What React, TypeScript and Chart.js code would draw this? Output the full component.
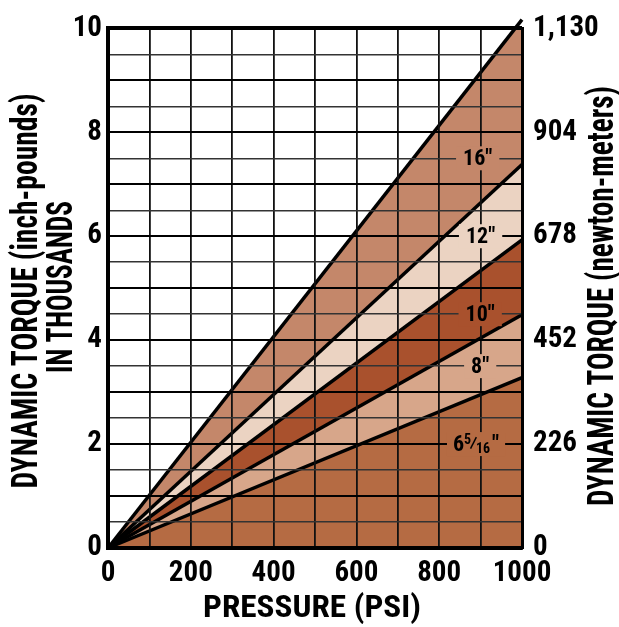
import React, { useEffect, useRef } from "react";
import { Chart, registerables } from "chart.js";

Chart.register(...registerables);

// ---- data ----
const pressurePsi = [0, 1000];
const torque16 = [0, 10.17];
const torque12 = [0, 7.38];
const torque10 = [0, 5.93];
const torque8 = [0, 4.49];
const torque6516 = [0, 3.28];

const rightTickLabels = ["0", "226", "452", "678", "904", "1,130"];
const bandLabels = ['16"', '12"', '10"', '8"', '6 5/16"'];
const labelPsi = [893, 900, 899, 899, 889];
const labelTorque = [7.5, 6.0, 4.5, 3.5, 2.0];

const bandColors = ["#c4876a", "#ebd3c2", "#a9512d", "#d7a68a", "#b56b43"];

const FONT = "'Roboto Condensed', 'Open Sans', 'DejaVu Sans Condensed', sans-serif";

function fitText(ctx: any, text: string, font: string, x: number, y: number, rot: number, target: number) {
  ctx.save();
  ctx.font = font;
  const w = ctx.measureText(text).width;
  ctx.translate(x, y);
  ctx.rotate(rot);
  ctx.scale(target / w, 1);
  ctx.textAlign = "center";
  ctx.textBaseline = "alphabetic";
  ctx.fillText(text, 0, 0);
  ctx.restore();
}

const labelsPlugin = {
  id: "bandLabels",
  afterDraw(chart: any) {
    const ctx = chart.ctx;
    const xs = chart.scales.x;
    const ys = chart.scales.y;
    ctx.save();
    bandLabels.forEach((txt, i) => {
      const cx = xs.getPixelForValue(labelPsi[i]);
      const cy = ys.getPixelForValue(labelTorque[i]);
      ctx.textBaseline = "middle";
      if (txt.includes("/")) {
        const big = `bold 22px ${FONT}`;
        const small = `bold 14px ${FONT}`;
        const slash = `bold 20px ${FONT}`;
        ctx.font = big;
        const w6 = ctx.measureText("6").width;
        const wq = ctx.measureText('"').width;
        ctx.font = small;
        const w5 = ctx.measureText("5").width;
        const w16 = ctx.measureText("16").width;
        ctx.font = slash;
        const ws = ctx.measureText("\u2044").width;
        const total = w6 + w5 + ws * 0.6 + w16 + wq + 2;
        ctx.fillStyle = bandColors[i];
        ctx.fillRect(cx - total / 2 - 6, cy - 12, total + 12, 24);
        ctx.fillStyle = "#000";
        ctx.textAlign = "left";
        let x = cx - total / 2;
        ctx.font = big;
        ctx.fillText("6", x, cy + 1);
        x += w6;
        ctx.font = small;
        ctx.fillText("5", x, cy - 4);
        x += w5 - ws * 0.2;
        ctx.font = slash;
        ctx.fillText("\u2044", x, cy + 1);
        x += ws * 0.8;
        ctx.font = small;
        ctx.fillText("16", x, cy + 5);
        x += w16 + 2;
        ctx.font = big;
        ctx.fillText('"', x, cy + 1);
      } else {
        ctx.font = `bold 22px ${FONT}`;
        const w = ctx.measureText(txt).width;
        ctx.fillStyle = bandColors[i];
        ctx.fillRect(cx - w / 2 - 7, cy - 12, w + 14, 24);
        ctx.fillStyle = "#000";
        ctx.textAlign = "center";
        ctx.fillText(txt, cx, cy + 1);
      }
    });

    // axis titles
    ctx.fillStyle = "#000";
    fitText(ctx, "PRESSURE (PSI)", `bold 31px ${FONT}`, 312, 617, 0, 218);
    fitText(ctx, "DYNAMIC TORQUE (inch-pounds)", `bold 37px ${FONT}`, 37, 291, -Math.PI / 2, 395);
    fitText(ctx, "IN THOUSANDS", `bold 36px ${FONT}`, 72, 287, -Math.PI / 2, 172);
    fitText(ctx, "DYNAMIC TORQUE (newton-meters)", `bold 37px ${FONT}`, 613, 296, -Math.PI / 2, 420);

    ctx.restore();
  },
};

function pts(vals: number[]) {
  return pressurePsi.map((x, i) => ({ x, y: vals[i] }));
}

export default function App() {
  const ref = useRef<HTMLCanvasElement | null>(null);
  useEffect(() => {
    document.body.style.margin = "0";
    const canvas = ref.current!;
    const series = [torque16, torque12, torque10, torque8, torque6516];
    const tickFont = { family: FONT, size: 29, weight: "bold" as const };
    const chart = new Chart(canvas, {
      type: "line",
      data: {
        datasets: series.map((s, i) => ({
          label: bandLabels[i],
          data: pts(s),
          borderColor: "#000",
          borderWidth: 3.5,
          backgroundColor: bandColors[i],
          fill: i < series.length - 1 ? "+1" : "origin",
          pointRadius: 0,
          clip: false as any,
          tension: 0,
        })),
      },
      options: {
        responsive: false,
        animation: false,
        layout: { padding: { top: 20, left: 0, right: 0, bottom: 0 } },
        plugins: {
          legend: { display: false },
          tooltip: { enabled: false },
          filler: { drawTime: "beforeDatasetsDraw", propagate: false },
        },
        scales: {
          x: {
            type: "linear",
            position: "bottom",
            min: 0,
            max: 1000,
            afterFit: (s: any) => {
              s.height = 79;
            },
            ticks: {
              stepSize: 100,
              autoSkip: false,
              maxRotation: 0,
              padding: 8,
              color: "#000",
              font: tickFont,
              callback: (v: any) => (Number(v) % 200 === 0 ? String(v) : ""),
            },
            grid: {
              color: "#111",
              lineWidth: (c: any) => (c.tick && c.tick.value === 1000 ? 3 : 1.8),
              drawTicks: false,
              z: 1,
            },
            border: { display: true, color: "#000", width: 4, z: 2 },
          },
          y: {
            type: "linear",
            position: "left",
            min: 0,
            max: 10,
            afterFit: (s: any) => {
              s.width = 108;
            },
            ticks: {
              stepSize: 0.5,
              autoSkip: false,
              padding: 6,
              color: "#000",
              font: tickFont,
              callback: (v: any) => (Number(v) % 2 === 0 ? String(v) : ""),
            },
            grid: {
              color: (c: any) => (c.tick && Number.isInteger(c.tick.value) ? "#000" : "#333"),
              lineWidth: (c: any) =>
                c.tick && c.tick.value === 10 ? 4 : c.tick && Number.isInteger(c.tick.value) ? 2 : 1.5,
              drawTicks: false,
              z: 1,
            },
            border: { display: true, color: "#000", width: 4, z: 2 },
          },
          y2: {
            type: "linear",
            position: "right",
            min: 0,
            max: 10,
            afterFit: (s: any) => {
              s.width = 97;
            },
            ticks: {
              stepSize: 0.5,
              autoSkip: false,
              padding: 11,
              color: "#000",
              font: tickFont,
              callback: (v: any) => (Number(v) % 2 === 0 ? rightTickLabels[Number(v) / 2] : ""),
            },
            grid: { display: false, drawTicks: false },
            border: { display: true, color: "#000", width: 3, z: 2 },
          },
        },
      } as any,
      plugins: [labelsPlugin],
    });
    return () => chart.destroy();
  }, []);
  return (
    <div style={{ width: 619, height: 627 }}>
      <canvas ref={ref} width={619} height={627} style={{ display: "block" }} />
    </div>
  );
}
